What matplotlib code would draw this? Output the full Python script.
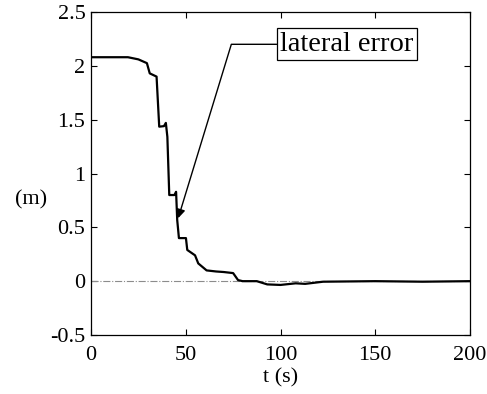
import matplotlib
matplotlib.use("Agg")
import matplotlib.pyplot as plt
import numpy as np

# lateral error trace
t = [0, 19.5, 25, 29.5, 31, 34.6, 36, 38.5, 39.5, 40.3, 41.3, 44, 44.9, 45.5,
     46.4, 50.1, 50.8, 54.9, 56.6, 61, 66, 70, 75, 77.6, 80, 87.5, 93, 100,
     108, 113, 122.5, 150, 175, 200]
err = [2.08, 2.08, 2.06, 2.025, 1.93, 1.90, 1.435, 1.44, 1.47, 1.34, 0.80, 0.80,
       0.83, 0.567, 0.40, 0.40, 0.29, 0.24, 0.165, 0.10, 0.09, 0.085, 0.075,
       0.01, 0.0, 0.0, -0.03, -0.035, -0.02, -0.025, -0.005, 0.0, -0.005, 0.0]

xticks = [0, 50, 100, 150, 200]
yticks = [-0.5, 0, 0.5, 1, 1.5, 2, 2.5]
ytick_labels = ["-0.5", "0", "0.5", "1", "1.5", "2", "2.5"]

plt.rcParams["font.family"] = ["Liberation Serif", "DejaVu Serif"]

fig = plt.figure(figsize=(4.87, 3.94), dpi=100)
ax = fig.add_axes([91 / 487, 1 - 335 / 394, 379 / 487, 323 / 394])

ax.plot([0, 200], [0, 0], color="0.55", lw=0.8, ls="-.")
ax.plot(t, err, color="k", lw=1.6)

ax.set_xlim(0, 200)
ax.set_ylim(-0.5, 2.5)
ax.set_xticks(xticks)
ax.set_yticks(yticks)
ax.set_yticklabels(ytick_labels)
ax.tick_params(direction="in", length=4, width=0.8, labelsize=16,
               top=True, right=True)
ax.tick_params(axis="x", pad=8)
ax.tick_params(axis="y", pad=4)
for s in ax.spines.values():
    s.set_linewidth(0.9)

ax.set_xlabel("t (s)", fontsize=16, labelpad=2)
ax.set_ylabel("(m)", fontsize=16, rotation=0, va="center", ha="center")
ax.yaxis.set_label_coords(-0.158, 0.418)

ax.annotate("lateral error", xy=(46, 0.585), xytext=(100, 2.2),
            fontsize=20.5, ha="left", va="center",
            bbox=dict(boxstyle="square,pad=0.12", fc="white", ec="k", lw=0.9),
            arrowprops=dict(arrowstyle="-|>", color="k", lw=1.0,
                            mutation_scale=13, relpos=(0, 0.5),
                            shrinkA=0, shrinkB=0,
                            connectionstyle="angle,angleA=0,angleB=73,rad=0"))

fig.savefig("out.png", dpi=100)
